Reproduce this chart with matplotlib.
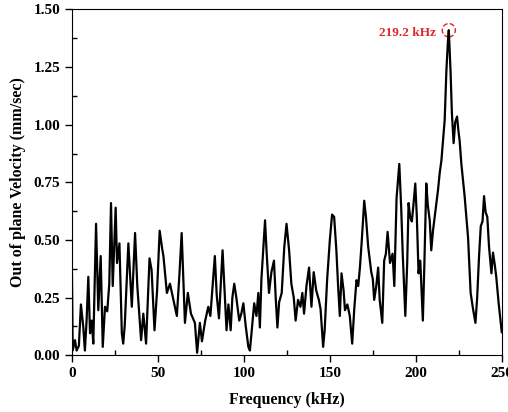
import matplotlib
matplotlib.use("Agg")
import matplotlib.pyplot as plt
from matplotlib.patches import Ellipse
from matplotlib.ticker import MultipleLocator

plt.rcParams["font.family"] = "serif"
plt.rcParams["font.serif"] = ["Liberation Serif", "DejaVu Serif"]
plt.rcParams["font.weight"] = "bold"

# spectrum (kHz, mm/sec)
freq_khz = [
    0.0, 0.4, 1.75, 2.7, 4.0, 5.2, 6.6, 7.5, 8.5, 9.5, 10.5, 11.5, 12.4, 14.0,
    15.3, 16.7, 17.9, 19.2, 20.5, 21.7, 22.7, 23.7, 25.4, 26.2, 27.6, 29.0,
    29.8, 30.7, 32.8, 34.8, 36.7, 38.0, 40.2, 41.5, 43.1, 45.1, 46.3, 48.0,
    49.5, 51.0, 52.5, 53.2, 55.2, 57.0, 59.0, 61.0, 62.5, 63.8, 65.7, 67.4,
    69.2, 71.5, 72.8, 74.4, 75.6, 77.5, 79.3, 80.5, 81.8, 83.1, 84.2, 85.5,
    86.5, 87.6, 88.8, 89.9, 91.0, 92.3, 93.3, 94.4, 95.6, 97.3, 98.5, 99.7,
    101.0, 102.6, 103.5, 104.5, 106.0, 107.3, 108.4, 109.3, 110.2, 112.3,
    113.2, 114.6, 116.0, 117.5, 118.5, 119.5, 120.5, 122.0, 123.5, 124.8,
    126.3, 127.6, 129.0, 130.1, 131.5, 132.9, 134.0, 135.0, 136.4, 137.9,
    139.3, 140.6, 142.1, 143.6, 144.6, 146.1, 147.0, 148.4, 150.0, 151.3,
    152.5, 153.8, 154.8, 155.8, 156.8, 158.0, 158.8, 160.2, 161.6, 163.0,
    164.2, 165.5, 166.5, 167.5, 168.6, 170.0, 171.0, 172.3, 174.1, 175.0,
    175.8, 177.0, 178.1, 179.0, 180.5, 181.6, 182.6, 183.6, 185.0, 186.5,
    187.5, 188.8, 190.4, 191.5, 192.4, 193.9, 195.0, 195.8, 196.7, 197.7,
    198.6, 199.7, 200.6, 201.6, 202.6, 204.1, 205.0, 206.1, 207.0, 208.1,
    209.0, 210.0, 211.0, 212.0, 212.9, 213.9, 214.9, 215.8, 216.8, 217.8,
    218.7, 219.2, 220.2, 221.0, 222.0, 222.9, 224.0, 224.7, 225.5, 226.5,
    228.4, 230.4, 231.9, 233.3, 234.7, 235.7, 236.8, 237.8, 238.8, 239.7,
    240.6, 241.6, 242.6, 244.0, 244.9, 245.8, 246.8, 248.2, 250.0,
]
velocity = [
    0.35, 0.02, 0.065, 0.02, 0.04, 0.22, 0.12, 0.02, 0.15, 0.34, 0.095, 0.15, 0.05, 0.57,
    0.195, 0.43, 0.036, 0.21, 0.19, 0.31, 0.66, 0.30, 0.64, 0.40, 0.485, 0.095,
    0.05, 0.13, 0.485, 0.21, 0.53, 0.30, 0.065, 0.18, 0.05, 0.42, 0.37, 0.108,
    0.28, 0.54, 0.46, 0.43, 0.27, 0.31, 0.24, 0.17, 0.35, 0.53, 0.14, 0.27,
    0.18, 0.14, 0.01, 0.14, 0.06, 0.15, 0.21, 0.17, 0.30, 0.43, 0.26, 0.16,
    0.30, 0.455, 0.27, 0.108, 0.22, 0.108, 0.25, 0.31, 0.25, 0.15, 0.18, 0.225,
    0.13, 0.036, 0.02, 0.10, 0.225, 0.17, 0.27, 0.12, 0.33, 0.585,
    0.45, 0.27, 0.36, 0.41, 0.25, 0.12, 0.23, 0.27, 0.47, 0.57,
    0.455, 0.31, 0.25, 0.15, 0.24, 0.21, 0.27, 0.18, 0.30, 0.38,
    0.21, 0.36, 0.28, 0.24, 0.20, 0.036, 0.11, 0.325, 0.50, 0.61,
    0.60, 0.455, 0.30, 0.17, 0.355, 0.28, 0.195, 0.22, 0.17, 0.05,
    0.20, 0.325, 0.30, 0.38, 0.50, 0.67, 0.60, 0.47, 0.36, 0.33,
    0.24, 0.30, 0.38, 0.24, 0.14, 0.41, 0.44, 0.535, 0.40, 0.44,
    0.30, 0.68, 0.83, 0.64, 0.44, 0.17, 0.40, 0.66, 0.60, 0.58,
    0.65, 0.745, 0.60, 0.355, 0.41, 0.15, 0.40, 0.745, 0.65, 0.585,
    0.455, 0.54, 0.60, 0.66, 0.715, 0.79, 0.845, 0.93, 1.02, 1.235,
    1.365, 1.41, 1.235, 1.05, 0.92, 1.01, 1.035, 0.98, 0.93, 0.83,
    0.69, 0.51, 0.27, 0.20, 0.14, 0.25, 0.43, 0.56, 0.58, 0.69,
    0.62, 0.60, 0.47, 0.355, 0.445, 0.40, 0.34, 0.225, 0.10,
]

peak_freq = 219.2
peak_vel = 1.41
peak_label = "219.2 kHz"

fig = plt.figure(figsize=(5.08, 4.12), dpi=100)
ax = fig.add_axes([0.1417, 0.138, 0.846, 0.839])

ax.plot(freq_khz, velocity, color="black", lw=1.6)

# dashed circle around the main peak
ax.add_patch(Ellipse((peak_freq, peak_vel), width=7.6, height=0.058, fill=False,
                     edgecolor="#e0262b", lw=1.0, ls="--"))
ax.text(peak_freq - 7.5, peak_vel - 0.01, peak_label, color="#e0262b",
        fontsize=9.5, fontweight="bold", ha="right", va="center")

ax.set_xlim(0, 250)
ax.set_ylim(0, 1.5)
ax.xaxis.set_major_locator(MultipleLocator(50))
ax.xaxis.set_minor_locator(MultipleLocator(25))
ax.yaxis.set_major_locator(MultipleLocator(0.25))
ax.yaxis.set_minor_locator(MultipleLocator(0.125))
ax.yaxis.set_major_formatter(plt.FormatStrFormatter("%.2f"))
ax.tick_params(which="major", direction="out", length=5, width=1, labelsize=11)
ax.tick_params(which="minor", direction="in", length=3.5, width=1)

ax.set_xlabel("Frequency (kHz)", fontsize=11.5, fontweight="bold", labelpad=9)
ax.set_ylabel("Out of plane Velocity (mm/sec)", fontsize=11.5, fontweight="bold", labelpad=5)

fig.savefig("out.png", dpi=100)
